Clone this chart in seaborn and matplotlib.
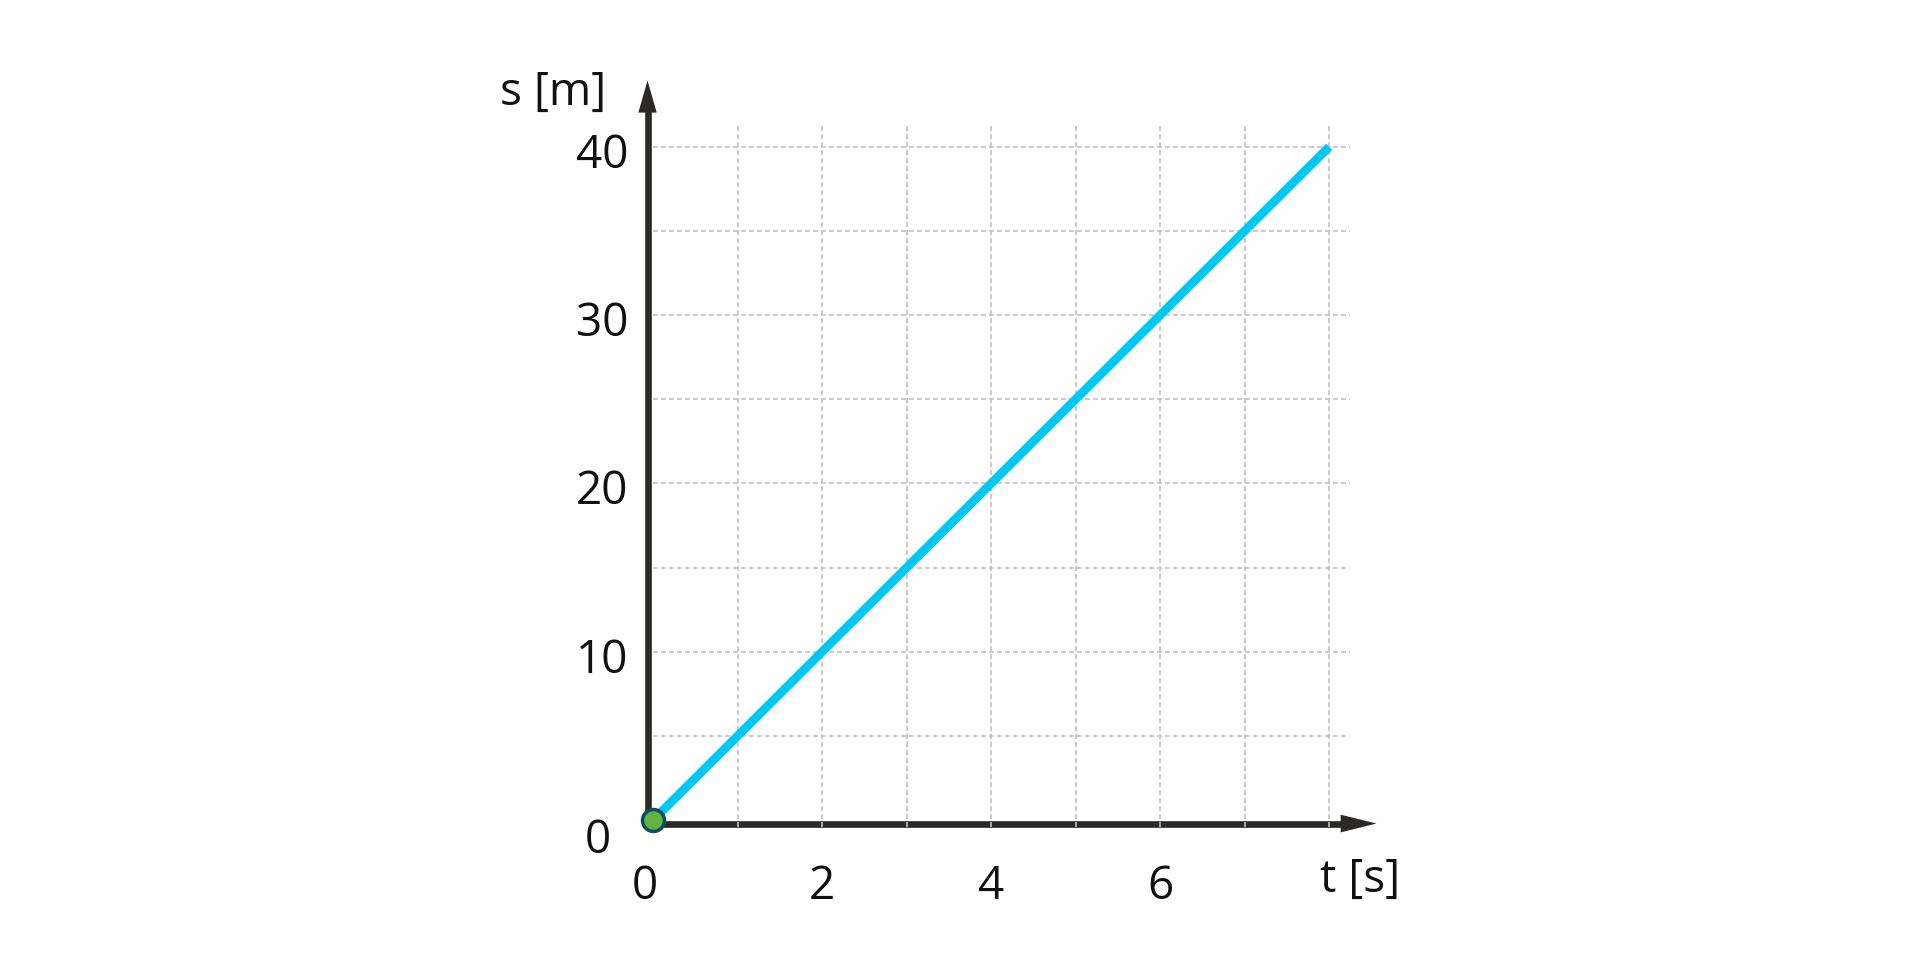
import numpy as np
import matplotlib
matplotlib.use("Agg")
import matplotlib.pyplot as plt
from matplotlib.patches import Polygon
import seaborn as sns

# data
t = [0, 8]
s = [0, 40]
x_ticks = [0, 2, 4, 6]
x_labels = ["0", "2", "4", "6"]
y_ticks = [0, 10, 20, 30, 40]
y_labels = ["0", "10", "20", "30", "40"]
x_title = "t [s]"
y_title = "s [m]"

sns.set_theme(style="white")
plt.rcParams["font.family"] = ["Open Sans", "DejaVu Sans"]

fig = plt.figure(figsize=(19.2, 9.71), dpi=100)
ax = fig.add_axes([0, 0, 1, 1])
ax.set_xlim(-7.730, 14.992)
ax.set_ylim(-8.972, 48.72)
ax.axis("off")

axis_col = "#2b2a29"
grid_col = "#c2c2c2"
text_col = "#111111"
fs = 33

# grid
ax.vlines(np.arange(1, 9), -0.4, 41.35, colors=grid_col, linewidth=1.2,
          linestyles=(0, (3, 1.8)), zorder=2)
ax.hlines(np.arange(5, 41, 5), 0, 8.25, colors=grid_col, linewidth=1.2,
          linestyles=(0, (3, 1.8)), zorder=2)

# axes with arrows
ax_x0, ax_y0 = -0.067, -0.21
ax.plot([ax_x0 - 0.04, 8.2], [ax_y0, ax_y0], color=axis_col, lw=4.8,
        solid_capstyle="butt", zorder=1)
ax.plot([ax_x0, ax_x0], [ax_y0 - 0.2, 42.1], color=axis_col, lw=4.8,
        solid_capstyle="butt", zorder=1)
ax.add_patch(Polygon([[8.56, ax_y0], [8.136, ax_y0 + 0.526], [8.136, ax_y0 - 0.526]],
                     closed=True, color=axis_col, lw=0, zorder=1))
ax.add_patch(Polygon([[ax_x0, 43.93], [ax_x0 - 0.109, 42.03], [ax_x0 + 0.109, 42.03]],
                     closed=True, color=axis_col, lw=0, zorder=1))

# line
sns.lineplot(x=t, y=s, color="#00c8f5", linewidth=6.3, ax=ax,
             solid_capstyle="butt", zorder=3)
sns.scatterplot(x=[t[0]], y=[s[0]], s=250, color="#62b33e", edgecolor="#0d4a6b",
                linewidth=2.5, ax=ax, zorder=4)

# tick labels
for v, lab in zip(x_ticks, x_labels):
    xv = v - 0.1 if v == 0 else v
    ax.text(xv, -4.72, lab, ha="center", va="baseline", fontsize=fs, color=text_col)
for v, lab in zip(y_ticks, y_labels):
    if v == 0:
        ax.text(-0.5, -1.98, lab, ha="right", va="baseline", fontsize=fs, color=text_col)
    else:
        ax.text(-0.295, v - 1.25, lab, ha="right", va="baseline", fontsize=fs, color=text_col)

ax.text(8.37, -4.27, x_title, ha="center", va="baseline", fontsize=fs, color=text_col)
ax.text(-1.186, 42.48, y_title, ha="center", va="baseline", fontsize=fs, color=text_col)

fig.savefig("out.png", dpi=100, facecolor="white")
